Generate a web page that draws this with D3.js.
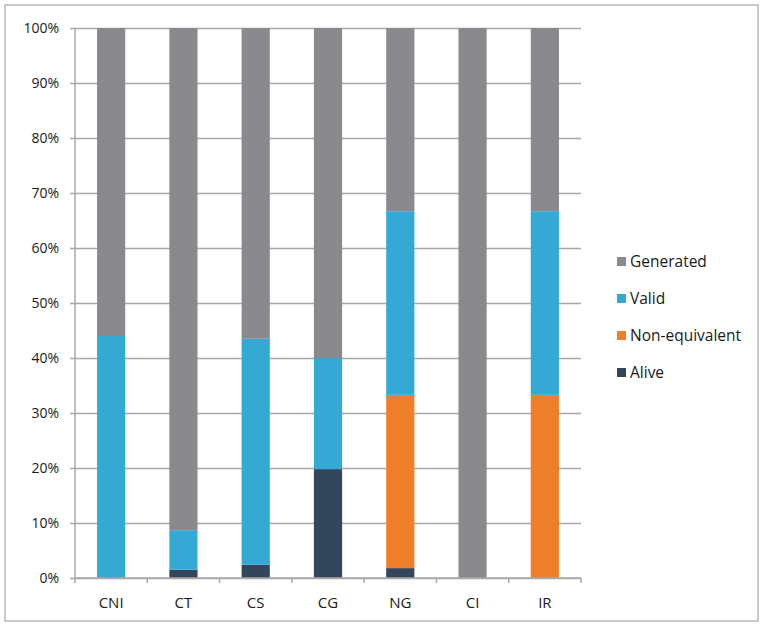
<!DOCTYPE html>
<html>
<head>
<meta charset="utf-8">
<script src="https://cdn.jsdelivr.net/npm/d3@7"></script>
<style>
  html, body { margin: 0; padding: 0; background: #fff; }
  svg text { font-family: "Open Sans", "Liberation Sans", sans-serif; fill: #1a1a1a; }
</style>
</head>
<body>
<svg id="chart" width="765" height="624"></svg>
<script>
// Categories and percentage shares per stack segment (bottom to top)
const categories = ["CNI", "CT", "CS", "CG", "NG", "CI", "IR"];
const alive         = [0,    1.5, 2.4, 19.8, 1.8,  0,   0];
const nonEquivalent = [0,    0,   0,   0,    31.5, 0,   33.3];
const valid         = [44,   7.2, 41.1, 20.2, 33.4, 0,  33.4];
const generated     = [56,   91.3, 56.5, 60,  33.3, 100, 33.3];
const yTicks = [0, 10, 20, 30, 40, 50, 60, 70, 80, 90, 100];

const seriesNames  = ["Alive", "Non-equivalent", "Valid", "Generated"];
const seriesColors = ["#34465c", "#f07f2a", "#35a9d6", "#8a8a8e"];
const seriesValues = [alive, nonEquivalent, valid, generated];

const rows = categories.map((c, i) => {
  const r = { cat: c };
  seriesNames.forEach((s, k) => { r[s] = seriesValues[k][i]; });
  return r;
});
const stacked = d3.stack().keys(seriesNames)(rows);

const svg = d3.select("#chart");
const margin = { left: 75, right: 184, top: 28, bottom: 46 };
const W = 765, H = 624;

// outer frame
svg.append("rect")
  .attr("x", 5).attr("y", 5)
  .attr("width", 753).attr("height", 616)
  .attr("fill", "none").attr("stroke", "#bdbdbd").attr("stroke-width", 1.6);

const x = d3.scaleBand()
  .domain(categories)
  .range([margin.left, W - margin.right])
  .paddingInner(0.61).paddingOuter(0.305);
const y = d3.scaleLinear().domain([0, 100]).range([H - margin.bottom, margin.top]);

// horizontal gridlines with y labels
const yAxis = d3.axisLeft(y)
  .tickValues(yTicks)
  .tickFormat(d => d + "%")
  .tickSize(-(W - margin.right - margin.left))
  .tickSizeOuter(0)
  .tickPadding(16);
const gy = svg.append("g").attr("transform", `translate(${margin.left},0)`).call(yAxis);
gy.select(".domain").remove();
gy.selectAll(".tick line")
  .attr("x1", -5)
  .attr("stroke", "#a8a8a8").attr("stroke-width", 1.5);
gy.selectAll(".tick text").attr("font-size", 14).attr("fill", "#1a1a1a");

// vertical axis line
svg.append("line")
  .attr("x1", margin.left).attr("x2", margin.left)
  .attr("y1", y(100)).attr("y2", y(0))
  .attr("stroke", "#a8a8a8").attr("stroke-width", 1.5);

// bars
svg.append("g").selectAll("g")
  .data(stacked)
  .join("g")
  .attr("fill", (d, i) => seriesColors[i])
  .selectAll("rect")
  .data(d => d)
  .join("rect")
  .attr("x", d => x(d.data.cat))
  .attr("width", x.bandwidth())
  .attr("y", d => y(d[1]))
  .attr("height", d => y(d[0]) - y(d[1]));

// category axis
const xAxis = d3.axisBottom(x).tickSize(0).tickPadding(19);
const gx = svg.append("g").attr("transform", `translate(0,${y(0)})`).call(xAxis);
gx.select(".domain").attr("stroke", "#a8a8a8").attr("stroke-width", 1.5)
  .attr("d", `M${margin.left},0H${W - margin.right}`);
gx.selectAll(".tick text").attr("font-size", 15).attr("fill", "#1a1a1a");

// tick marks at category boundaries
const bounds = d3.range(categories.length + 1).map(i => margin.left + i * (W - margin.right - margin.left) / categories.length);
svg.append("g").selectAll("line")
  .data(bounds)
  .join("line")
  .attr("x1", d => d).attr("x2", d => d)
  .attr("y1", y(0)).attr("y2", y(0) + 5)
  .attr("stroke", "#a8a8a8").attr("stroke-width", 1.5);

// legend (top entry = top segment)
const legendOrder = ["Generated", "Valid", "Non-equivalent", "Alive"];
const legend = svg.append("g").attr("transform", "translate(617,262)");
legendOrder.forEach((name, i) => {
  const k = seriesNames.indexOf(name);
  const g = legend.append("g").attr("transform", `translate(0,${i * 37})`);
  g.append("rect").attr("x", 0).attr("y", -5).attr("width", 9).attr("height", 9).attr("fill", seriesColors[k]);
  g.append("text").attr("x", 13).attr("y", 0).attr("dy", "0.35em")
    .attr("font-size", 15.5).text(name);
});
</script>
</body>
</html>
